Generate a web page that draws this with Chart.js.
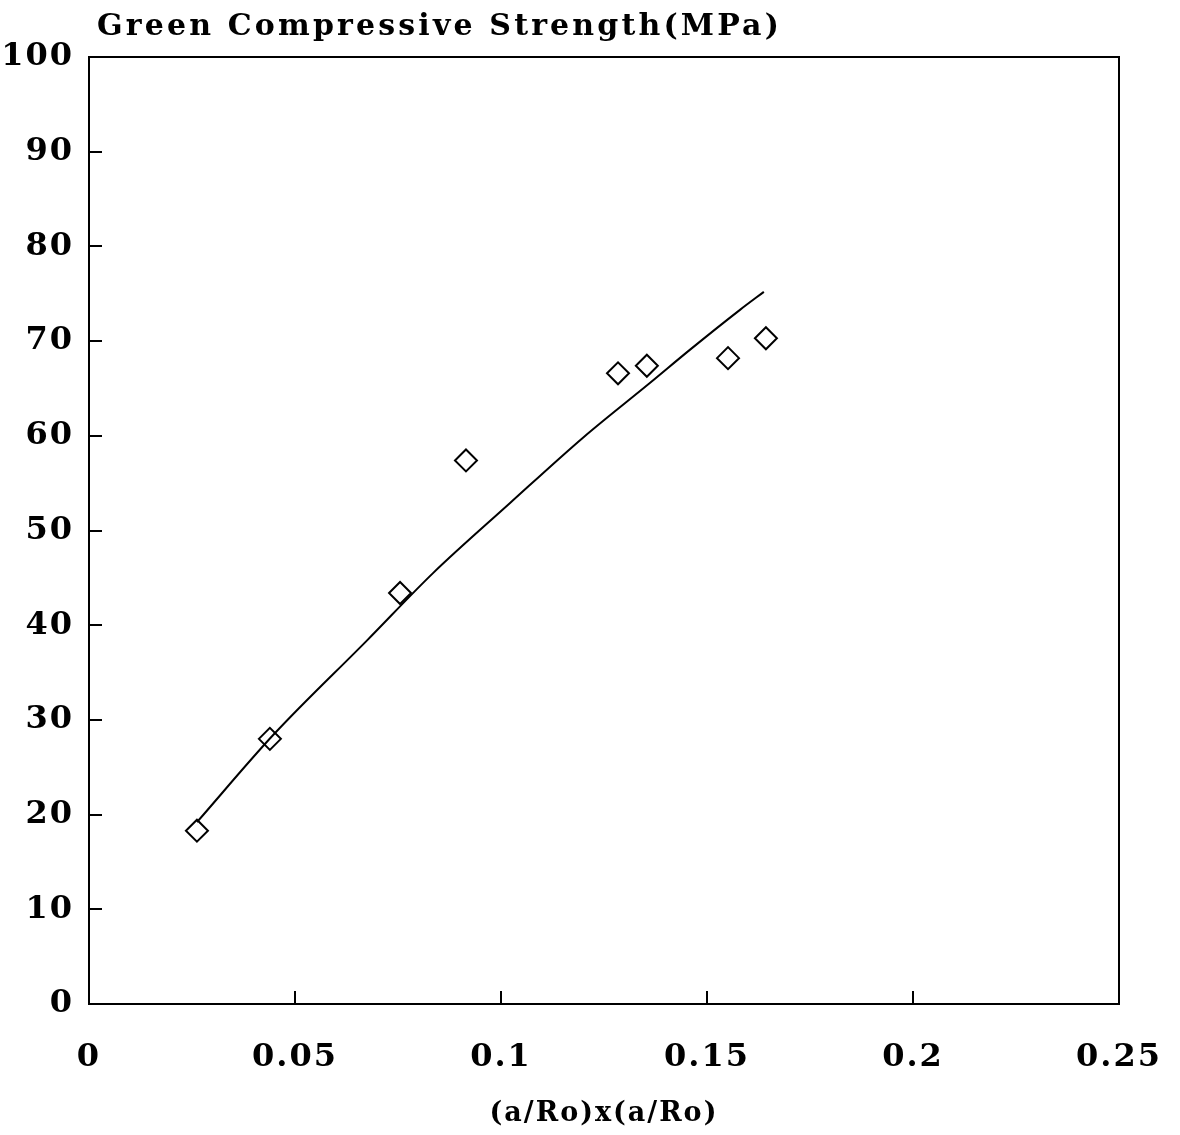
<!DOCTYPE html>
<html><head><meta charset="utf-8">
<script src="https://cdn.jsdelivr.net/npm/chart.js@4/dist/chart.umd.min.js"></script>
<style>html,body{margin:0;padding:0;background:#fff}canvas{display:block}</style>
</head>
<body>
<canvas id="c" width="1180" height="1135"></canvas>
<script>
const chartTitle = 'Green Compressive Strength(MPa)';
const xAxisTitle = '(a/Ro)x(a/Ro)';
const xTicks = [0, 0.05, 0.1, 0.15, 0.2, 0.25];
const xTickLabels = ['0', '0.05', '0.1', '0.15', '0.2', '0.25'];
const yTicks = [0, 10, 20, 30, 40, 50, 60, 70, 80, 90, 100];
const yTickLabels = ['0', '10', '20', '30', '40', '50', '60', '70', '80', '90', '100'];
const measuredX = [0.0262, 0.0439, 0.0755, 0.0915, 0.1284, 0.1354, 0.1551, 0.1643];
const measuredY = [18.3, 28.0, 43.4, 57.4, 66.6, 67.4, 68.2, 70.3];
const fitX = [0.0262, 0.0447, 0.0675, 0.0835, 0.1022, 0.1199, 0.1362, 0.1459, 0.158, 0.1638];
const fitY = [19.2, 28.4, 38.4, 45.5, 52.9, 59.8, 65.6, 69.1, 73.3, 75.2];

const FONT = "'DejaVu Serif', 'Liberation Serif', serif";

const frame = {
  id: 'frame',
  beforeLayout(chart) { chart.ctx.letterSpacing = '2px'; },
  beforeDraw(chart) { chart.ctx.letterSpacing = '2px'; },
  afterDraw(chart) {
    const ctx = chart.ctx, a = chart.chartArea;
    const xs = chart.scales.x, ys = chart.scales.y;
    ctx.save();
    ctx.strokeStyle = '#000';
    ctx.lineWidth = 2;
    ctx.strokeRect(a.left, a.top, a.right - a.left, a.bottom - a.top);
    ctx.beginPath();
    xTicks.forEach(v => {
      const p = Math.round(xs.getPixelForValue(v));
      if (v > 0 && v < 0.25) { ctx.moveTo(p, a.bottom); ctx.lineTo(p, a.bottom - 13); }
    });
    yTicks.forEach(v => {
      const p = Math.round(ys.getPixelForValue(v));
      if (v > 0 && v < 100) { ctx.moveTo(a.left, p); ctx.lineTo(a.left + 13, p); }
    });
    ctx.stroke();
    // chart title
    ctx.fillStyle = '#000';
    ctx.font = "bold 30px " + FONT;
    ctx.letterSpacing = '0px';
    const w0 = ctx.measureText(chartTitle).width;
    const sp = Math.max(0, (685 - w0) / chartTitle.length);
    ctx.letterSpacing = sp + 'px';
    ctx.textAlign = 'left';
    ctx.textBaseline = 'alphabetic';
    ctx.fillText(chartTitle, a.left + 8, a.top - 22);
    ctx.restore();
  }
};

new Chart(document.getElementById('c'), {
  type: 'scatter',
  data: {
    datasets: [
      {
        label: 'measured',
        data: measuredX.map((x, i) => ({ x, y: measuredY[i] })),
        pointStyle: 'rectRot',
        pointRadius: 11,
        pointBorderWidth: 2,
        borderColor: '#000',
        backgroundColor: 'rgba(0,0,0,0)',
        showLine: false
      },
      {
        label: 'fit',
        data: fitX.map((x, i) => ({ x, y: fitY[i] })),
        showLine: true,
        pointRadius: 0,
        borderColor: '#000',
        borderWidth: 2,
        cubicInterpolationMode: 'monotone',
        fill: false
      }
    ]
  },
  options: {
    responsive: false,
    devicePixelRatio: 1,
    animation: false,
    events: [],
    layout: { padding: { top: 57, right: 61, left: 0, bottom: 0 } },
    plugins: { legend: { display: false }, tooltip: { enabled: false }, title: { display: false } },
    scales: {
      x: {
        type: 'linear', min: 0, max: 0.25,
        afterBuildTicks(s) { s.ticks = xTicks.map(v => ({ value: v })); },
        afterFit(s) { s.height = 131; s.paddingLeft = 0; s.paddingRight = 0; },
        grid: { display: false },
        border: { display: false },
        ticks: {
          padding: 26, color: '#000', maxRotation: 0, autoSkip: false,
          font: { family: FONT, size: 32, weight: 'bold' },
          callback: (v) => xTickLabels[xTicks.indexOf(v)] ?? ''
        },
        title: {
          display: true, text: xAxisTitle, color: '#000',
          font: { family: FONT, size: 27, weight: 'bold' },
          padding: { top: 0, bottom: 5 }
        }
      },
      y: {
        type: 'linear', min: 0, max: 100,
        afterBuildTicks(s) { s.ticks = yTicks.map(v => ({ value: v })); },
        afterFit(s) { s.width = 89; s.paddingTop = 0; s.paddingBottom = 0; },
        grid: { display: false },
        border: { display: false },
        ticks: {
          padding: 7, color: '#000', autoSkip: false,
          font: { family: FONT, size: 32, weight: 'bold' },
          callback: (v) => yTickLabels[yTicks.indexOf(v)] ?? ''
        }
      }
    }
  },
  plugins: [frame]
});
</script>
</body></html>
